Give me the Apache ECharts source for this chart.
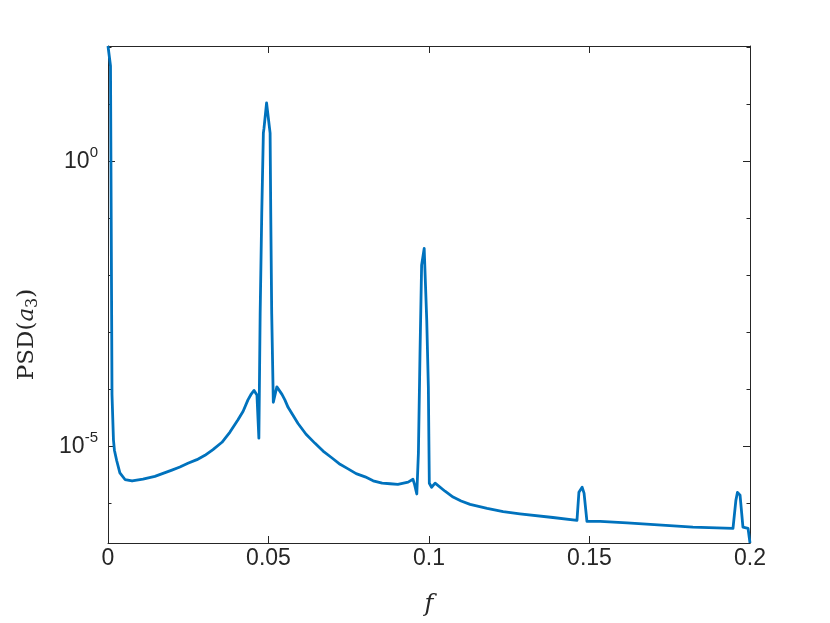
<!DOCTYPE html>
<html>
<head>
<meta charset="utf-8">
<script src="https://cdn.jsdelivr.net/npm/echarts@6/dist/echarts.min.js"></script>
<style>html,body{margin:0;padding:0;background:#fff;}#chart{width:830px;height:623px;}</style>
</head>
<body>
<div id="chart"></div>
<script>
// frequency values
const freq = [0, 0.00078, 0.00125, 0.0017, 0.0020, 0.0027, 0.0037, 0.0053, 0.0075, 0.0109, 0.0146, 0.0199, 0.0224, 0.0249, 0.0277, 0.0302, 0.0327, 0.0355, 0.0380, 0.0405, 0.0421, 0.0436, 0.0445, 0.0455, 0.0464, 0.0470, 0.0474, 0.0479, 0.0484, 0.0486, 0.0494, 0.0505, 0.0507, 0.0510, 0.0515, 0.0526, 0.0542, 0.0551, 0.0561, 0.0592, 0.0617, 0.0645, 0.0670, 0.0698, 0.0723, 0.0748, 0.0773, 0.0801, 0.0826, 0.0854, 0.0879, 0.0903, 0.0935, 0.0950, 0.0955, 0.0962, 0.0967, 0.0972, 0.0977, 0.0985, 0.0993, 0.0998, 0.1001, 0.1008, 0.1019, 0.1050, 0.1075, 0.1100, 0.1128, 0.1181, 0.1231, 0.1283, 0.1386, 0.1461, 0.1467, 0.1477, 0.1483, 0.1492, 0.1533, 0.1617, 0.1822, 0.1947, 0.1956, 0.1961, 0.1969, 0.1978, 0.1994, 0.2];
// PSD(a3) values
const psd = [105, 46.8, 7.9e-5, 1.29e-5, 8.5e-6, 5.6e-6, 3.4e-6, 2.6e-6, 2.45e-6, 2.63e-6, 2.95e-6, 3.8e-6, 4.3e-6, 5.0e-6, 5.8e-6, 6.9e-6, 8.7e-6, 1.17e-5, 1.77e-5, 2.9e-5, 4.1e-5, 6.5e-5, 8.0e-5, 9.5e-5, 7.9e-5, 1.38e-5, 2.1e-3, 0.123, 3.1, 3.8, 10.5, 3.1, 0.123, 2.1e-3, 5.9e-5, 1.1e-4, 8.1e-5, 6.5e-5, 4.8e-5, 2.5e-5, 1.62e-5, 1.12e-5, 8.2e-6, 6.2e-6, 4.8e-6, 4.0e-6, 3.3e-6, 2.9e-6, 2.47e-6, 2.24e-6, 2.19e-6, 2.14e-6, 2.34e-6, 2.63e-6, 2.14e-6, 1.45e-6, 7.6e-6, 4.3e-4, 1.5e-2, 2.95e-2, 1.6e-3, 1.1e-4, 2.24e-6, 1.9e-6, 2.24e-6, 1.62e-6, 1.28e-6, 1.09e-6, 9.5e-7, 8.1e-7, 7.1e-7, 6.5e-7, 5.6e-7, 5.0e-7, 1.55e-6, 1.9e-6, 1.5e-6, 4.8e-7, 4.8e-7, 4.5e-7, 3.8e-7, 3.6e-7, 1.12e-6, 1.55e-6, 1.38e-6, 3.8e-7, 3.6e-7, 2.0e-7];
const xTicks = [0, 0.05, 0.1, 0.15, 0.2];
const yLabelTicks = [1e-5, 1];
const yMinorTicks = [1e-6, 1e-5, 1e-4, 1e-3, 1e-2, 1e-1, 1, 10, 100];

const AX = '#262626';
const yMin = 2.0e-7, yMax = 105;
const fontSans = 'Liberation Sans, Arial, Helvetica, sans-serif';
const fontSerif = 'DejaVu Serif, Liberation Serif, serif';

function yAx(pos, labels, ticks, len, line) {
  return {
    type: 'log', logBase: 10, position: pos, min: yMin, max: yMax,
    axisLine: {show: line, onZero: false, lineStyle: {color: AX, width: 1}},
    axisTick: {show: true, inside: true, length: len, customValues: ticks, lineStyle: {color: AX, width: 1}},
    axisLabel: labels ? {
      show: true, customValues: yLabelTicks, margin: 10, color: AX,
      fontFamily: fontSans, fontSize: 23,
      formatter: v => '10{sup|' + Math.round(Math.log10(v)) + '}',
      rich: {sup: {fontFamily: fontSans, fontSize: 15, color: AX, padding: [0, 0, 17, 0]}}
    } : {show: false},
    splitLine: {show: false}, minorTick: {show: false}, minorSplitLine: {show: false}
  };
}

const yAxes = [
  Object.assign(yAx('left', true, yLabelTicks, 7, true), {
    name: 'PSD({it|a}{sub|3})', nameLocation: 'middle', nameGap: 67, nameRotate: 90,
    nameTextStyle: {fontFamily: fontSerif, fontSize: 23, color: AX, padding: [0, 80, 0, 0],
      rich: {it: {fontFamily: fontSerif, fontStyle: 'italic', fontSize: 23, color: AX},
             sub: {fontFamily: fontSerif, fontSize: 16, color: AX, padding: [12, 0, 0, 0]}}}
  }),
  yAx('left', false, yMinorTicks, 3.5, false),
  yAx('right', false, yLabelTicks, 7, true),
  yAx('right', false, yMinorTicks, 3.5, false)
];

const chart = echarts.init(document.getElementById('chart'), null, {renderer: 'canvas'});
chart.setOption({
  animation: false,
  backgroundColor: '#ffffff',
  grid: {left: 108, right: 80, top: 46, bottom: 80, containLabel: false},
  xAxis: [{
    type: 'value', min: 0, max: 0.2, interval: 0.05, position: 'bottom',
    name: 'f', nameLocation: 'middle', nameGap: 50,
    nameTextStyle: {fontFamily: fontSerif, fontStyle: 'italic', fontSize: 24, color: AX},
    axisLine: {show: true, onZero: false, lineStyle: {color: AX, width: 1}},
    axisTick: {show: true, inside: true, length: 7, lineStyle: {color: AX, width: 1}},
    axisLabel: {show: true, margin: 4, color: AX, fontFamily: fontSans, fontSize: 23,
      customValues: xTicks, formatter: v => String(v)},
    splitLine: {show: false}
  }, {
    type: 'value', min: 0, max: 0.2, interval: 0.05, position: 'top',
    axisLine: {show: true, onZero: false, lineStyle: {color: AX, width: 1}},
    axisTick: {show: true, inside: true, length: 7, lineStyle: {color: AX, width: 1}},
    axisLabel: {show: false}, splitLine: {show: false}
  }],
  yAxis: yAxes,
  series: [{
    type: 'line', xAxisIndex: 0, yAxisIndex: 0,
    data: freq.map((f, i) => [f, psd[i]]),
    showSymbol: false, smooth: false, clip: true,
    lineStyle: {color: '#0072BD', width: 2.8, join: 'round'}
  }]
});
</script>
</body>
</html>
